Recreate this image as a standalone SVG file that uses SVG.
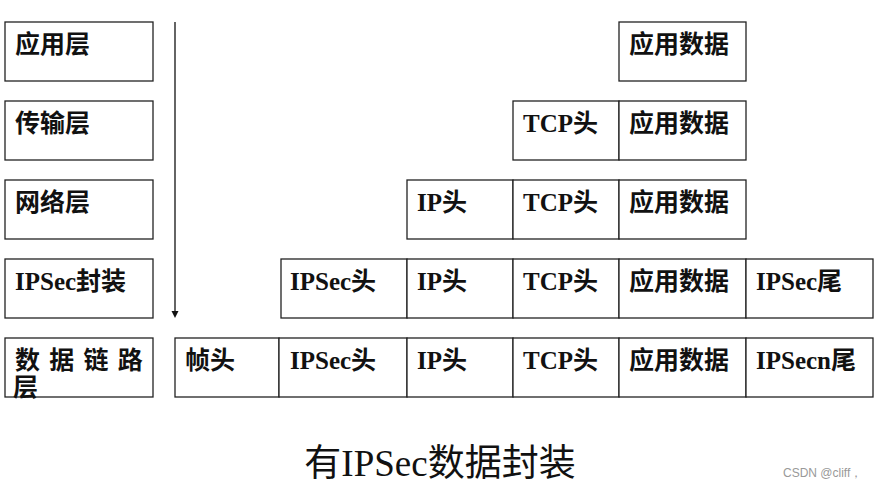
<svg xmlns="http://www.w3.org/2000/svg" width="878" height="489" viewBox="0 0 878 489">
<style>
rect{fill:#fff;stroke:#222;stroke-width:1.3}
text{font-family:"Liberation Serif","Noto Sans CJK SC",serif;font-size:25px;font-weight:bold;fill:#111}
.t{font-weight:normal;font-size:37px}
.w{font-family:"Liberation Sans",sans-serif;font-size:12px;font-weight:normal;fill:#999}
</style>
<rect x="0" y="0" width="878" height="489" style="stroke:none"/>
<g id="layers">
<g id="l1"><rect x="5" y="22" width="148" height="59"/><text x="15" y="53">应用层</text></g>
<g id="l2"><rect x="5" y="101" width="148" height="59"/><text x="15" y="132">传输层</text></g>
<g id="l3"><rect x="5" y="180" width="148" height="59"/><text x="15" y="211">网络层</text></g>
<g id="l4"><rect x="5" y="259" width="148" height="59"/><text x="15" y="290">IPSec封装</text></g>
<g id="l5"><rect x="5" y="338" width="148" height="59"/><text x="15" y="369" style="word-spacing:3px">数 据 链 路</text><text x="13" y="396">层</text></g>
</g>
<g id="connectors">
<line x1="175" y1="22" x2="175" y2="312" stroke="#111" stroke-width="1.3"/>
<path d="M171.5,311 L175,318 L178.5,311 Z" fill="#111"/>
</g>
<g id="row1"><g id="r1c5"><rect x="619" y="22" width="127" height="59"/><text x="629" y="53">应用数据</text></g></g>
<g id="row2">
<g id="r2c4"><rect x="513" y="101" width="106" height="59"/><text x="523" y="132">TCP头</text></g>
<g id="r2c5"><rect x="619" y="101" width="127" height="59"/><text x="629" y="132">应用数据</text></g>
</g>
<g id="row3">
<g id="r3c3"><rect x="407" y="180" width="106" height="59"/><text x="417" y="211">IP头</text></g>
<g id="r3c4"><rect x="513" y="180" width="106" height="59"/><text x="523" y="211">TCP头</text></g>
<g id="r3c5"><rect x="619" y="180" width="127" height="59"/><text x="629" y="211">应用数据</text></g>
</g>
<g id="row4">
<g id="r4c2"><rect x="281" y="259" width="126" height="59"/><text x="290" y="290">IPSec头</text></g>
<g id="r4c3"><rect x="407" y="259" width="106" height="59"/><text x="417" y="290">IP头</text></g>
<g id="r4c4"><rect x="513" y="259" width="106" height="59"/><text x="523" y="290">TCP头</text></g>
<g id="r4c5"><rect x="619" y="259" width="127" height="59"/><text x="629" y="290">应用数据</text></g>
<g id="r4c6"><rect x="746" y="259" width="127" height="59"/><text x="756" y="290">IPSec尾</text></g>
</g>
<g id="row5">
<g id="r5c1"><rect x="175" y="338" width="104" height="59"/><text x="185" y="369">帧头</text></g>
<g id="r5c2"><rect x="279" y="338" width="128" height="59"/><text x="290" y="369">IPSec头</text></g>
<g id="r5c3"><rect x="407" y="338" width="106" height="59"/><text x="417" y="369">IP头</text></g>
<g id="r5c4"><rect x="513" y="338" width="106" height="59"/><text x="523" y="369">TCP头</text></g>
<g id="r5c5"><rect x="619" y="338" width="127" height="59"/><text x="629" y="369">应用数据</text></g>
<g id="r5c6"><rect x="746" y="338" width="127" height="59"/><text x="756" y="369">IPSecn尾</text></g>
</g>
<text class="t" x="440" y="476" text-anchor="middle">有IPSec数据封装</text>
<text class="w" x="783" y="477">CSDN @cliff，</text>
</svg>
